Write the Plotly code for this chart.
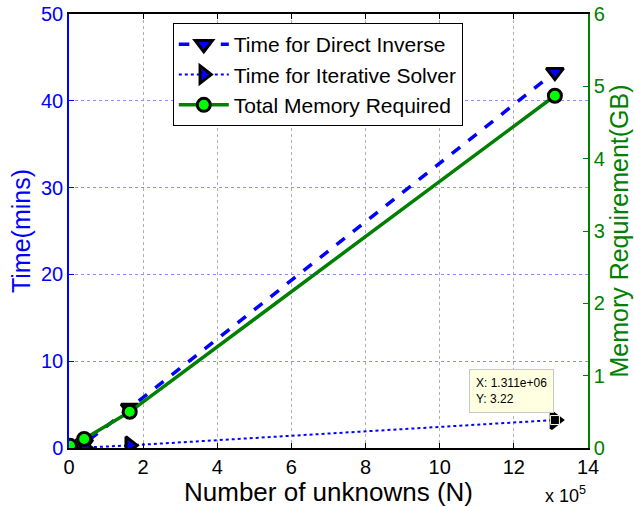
import plotly.graph_objects as go

# Data
N_unknowns = [2560, 40960, 163840, 1310720]
time_direct = [0.1, 0.5, 4.6, 43.3]          # minutes
time_iterative = [0.01, 0.05, 0.3, 3.22]     # minutes
memory_gb = [0.03, 0.125, 0.5, 4.87]         # GB

x_tick_vals = [0, 2e5, 4e5, 6e5, 8e5, 10e5, 12e5, 14e5]
x_tick_text = ["0", "2", "4", "6", "8", "10", "12", "14"]
left_ticks = [0, 10, 20, 30, 40, 50]
right_ticks = [0, 1, 2, 3, 4, 5, 6]

tip_x = N_unknowns[-1]
tip_y = time_iterative[-1]

FONT = "Liberation Sans, Arial, Helvetica, sans-serif"
BLUE = "#0000ff"
GREEN = "#008000"

fig = go.Figure()

fig.add_trace(go.Scatter(
    x=N_unknowns, y=time_direct, name="Time for Direct Inverse",
    mode="lines+markers", legendgroup="a",
    line=dict(color=BLUE, width=3.5, dash="dash"),
    marker=dict(symbol="triangle-down", size=15, color=BLUE,
                line=dict(color="black", width=3)),
))
fig.add_trace(go.Scatter(
    x=N_unknowns, y=time_iterative, name="Time for Iterative Solver",
    mode="lines+markers", legendgroup="b",
    line=dict(color=BLUE, width=2, dash="dot"),
    marker=dict(symbol="triangle-right", size=15, color=BLUE,
                line=dict(color="black", width=3)),
))
fig.add_trace(go.Scatter(
    x=N_unknowns, y=memory_gb, name="Total Memory Required",
    mode="lines+markers", legendgroup="c", yaxis="y2",
    line=dict(color=GREEN, width=3.5),
    marker=dict(symbol="circle", size=13, color="#00ff00",
                line=dict(color="black", width=3)),
))
# data tip marker
fig.add_trace(go.Scatter(
    x=[tip_x], y=[tip_y], mode="markers", showlegend=False, hoverinfo="skip",
    marker=dict(symbol="square", size=9, color="black",
                line=dict(color="#ffffe1", width=1)),
))

fig.add_annotation(
    x=tip_x, y=tip_y, xref="x", yref="y",
    text="X: 1.311e+06<br>Y: 3.22", showarrow=False, align="left",
    xanchor="right", yanchor="bottom", xshift=-1, yshift=7,
    font=dict(family=FONT, size=12, color="black"),
    bgcolor="#ffffe1", bordercolor="#c8c8c8", borderwidth=1, borderpad=6,
)
fig.add_annotation(
    x=1.0, y=-0.108, xref="paper", yref="paper",
    text="x 10<sup>5</sup>", showarrow=False, xanchor="right", yanchor="middle",
    xshift=0, font=dict(family=FONT, size=18, color="black"),
)

fig.update_layout(
    width=634, height=507,
    margin=dict(l=69, r=46, t=14, b=59, autoexpand=False),
    paper_bgcolor="white", plot_bgcolor="white",
    font=dict(family=FONT, color="black"),
    showlegend=True,
    legend=dict(
        x=0.2, y=0.979, xanchor="left", yanchor="top",
        bgcolor="white", bordercolor="black", borderwidth=1,
        font=dict(family=FONT, size=21, color="black"),
        itemwidth=50, tracegroupgap=0, traceorder="grouped",
    ),
    xaxis=dict(
        range=[0, 14e5], tickvals=x_tick_vals, ticktext=x_tick_text,
        showline=True, linecolor="black", linewidth=1.5, mirror="ticks",
        ticks="inside", ticklen=5, tickcolor="black",
        showgrid=True, gridcolor="#b0b0b0", griddash="dot", gridwidth=1,
        zeroline=False, automargin=False,
        tickfont=dict(family=FONT, size=20, color="black"),
        title=dict(text="Number of unknowns (N)", standoff=2,
                   font=dict(family=FONT, size=26, color="black")),
    ),
    yaxis=dict(
        range=[0, 50], tickvals=left_ticks,
        showline=True, linecolor=BLUE, linewidth=1.5,
        ticks="inside", ticklen=5, tickcolor=BLUE,
        showgrid=True, gridcolor="#8c8cff", griddash="dot", gridwidth=1,
        zeroline=False, automargin=False,
        tickfont=dict(family=FONT, size=20, color=BLUE),
        title=dict(text="Time(mins)", standoff=3,
                   font=dict(family=FONT, size=25, color=BLUE)),
    ),
    yaxis2=dict(
        range=[0, 6], tickvals=right_ticks, overlaying="y", side="right",
        showline=True, linecolor=GREEN, linewidth=1.5,
        ticks="inside", ticklen=5, tickcolor=GREEN,
        showgrid=False, zeroline=False, automargin=False,
        tickfont=dict(family=FONT, size=20, color=GREEN),
        title=dict(text="Memory Requirement(GB)", standoff=4,
                   font=dict(family=FONT, size=25, color=GREEN)),
    ),
)

# remove the default 8px page margin so the 634x507 figure fills the window
fig.write_html(
    "out.html",
    config={"displayModeBar": False},
    post_script="document.body.style.margin='0';document.body.style.padding='0';",
)
